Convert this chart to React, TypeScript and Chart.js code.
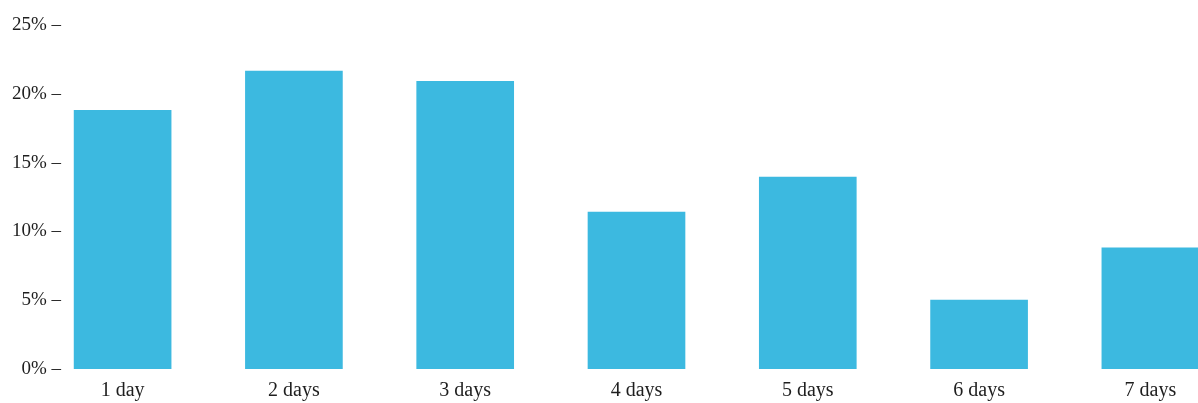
import React, { useEffect, useRef } from "react";
import { Chart, registerables } from "chart.js";

Chart.register(...registerables);

const categories = ["1 day", "2 days", "3 days", "4 days", "5 days", "6 days", "7 days"];
const shares = [18.8, 21.65, 20.9, 11.4, 13.95, 5.0, 8.8];
const yTicks = [0, 5, 10, 15, 20, 25];

const BAR_COLOR = "#3cb9e0";
const TEXT_COLOR = "#1e1e1e";
const FONT = "'Liberation Serif', 'Times New Roman', serif";

export default function App() {
  const ref = useRef<HTMLCanvasElement | null>(null);

  useEffect(() => {
    if (!ref.current) return;
    const chart = new Chart(ref.current, {
      type: "bar",
      data: {
        datasets: [
          {
            data: shares.map((v, i) => ({ x: i, y: v })),
            backgroundColor: BAR_COLOR,
            borderWidth: 0,
            barThickness: 97,
          },
        ],
      },
      options: {
        animation: false,
        responsive: true,
        maintainAspectRatio: false,
        layout: { padding: { top: 25, right: 0, bottom: 0, left: 0 } },
        plugins: { legend: { display: false }, tooltip: { enabled: false } },
        scales: {
          x: {
            type: "linear",
            offset: false,
            min: -0.348,
            max: 6.278,
            grid: { display: false },
            border: { display: false },
            ticks: {
              stepSize: 1,
              includeBounds: false,
              autoSkip: false,
              maxRotation: 0,
              color: TEXT_COLOR,
              font: { family: FONT, size: 20 },
              padding: 2,
              callback: (v: any) => {
                const n = Number(v);
                return Number.isInteger(n) && categories[n] !== undefined ? categories[n] : "";
              },
            },
            afterFit: (scale: any) => {
              scale.height = 34;
            },
          },
          y: {
            min: 0,
            max: 25,
            grid: { display: false, drawTicks: false },
            border: { display: false },
            afterBuildTicks: (scale: any) => {
              scale.ticks = yTicks.map((v) => ({ value: v }));
            },
            ticks: {
              stepSize: 5,
              color: TEXT_COLOR,
              font: { family: FONT, size: 19 },
              padding: 2,
              callback: (v: any) => `${v}% –`,
            },
            afterFit: (scale: any) => {
              scale.width = 63;
            },
          },
        },
      },
    });
    return () => chart.destroy();
  }, []);

  return (
    <div style={{ position: "fixed", left: 0, top: 0, width: 1198, height: 403, background: "#fff" }}>
      <canvas ref={ref} />
    </div>
  );
}
